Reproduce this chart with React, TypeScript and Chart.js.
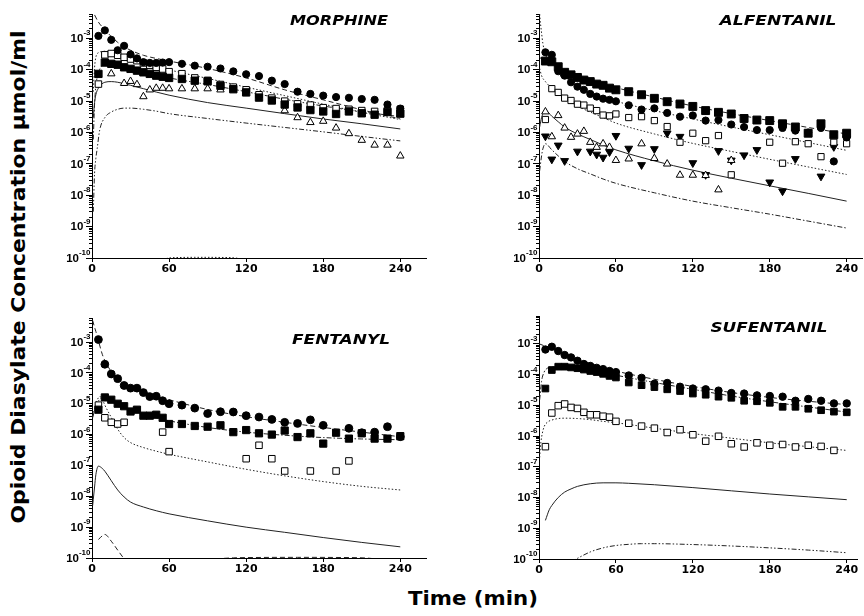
import React, { useEffect, useMemo, useRef } from "react";
import { Chart, registerables } from "chart.js";
Chart.register(...registerables);

// ---------- shared axes ----------
const SAMPLE_TIMES = [5, 10, 15, 20, 25, 30, 35, 40, 45, 50, 55, 60, 70, 80, 90, 100, 110, 120, 130, 140, 150, 160, 170, 180, 190, 200, 210, 220, 230, 240];
const X_TICKS = [0, 60, 120, 180, 240];
const Y_DECADES = [-10, -9, -8, -7, -6, -5, -4, -3];

// ---------- MORPHINE ----------
const MORPHINE_CIRCLE = [1.2e-3, 1.8e-3, 9e-4, 4.2e-4, 5.8e-4, 3.1e-4, 2.3e-4, 1.75e-4, 1.65e-4, 1.65e-4, 1.7e-4, 1.75e-4, 1.55e-4, 1.35e-4, 1.25e-4, 1.1e-4, 8.9e-5, 7.2e-5, 6.3e-5, 4.5e-5, 3.5e-5, 2e-5, 1.7e-5, 1.5e-5, 1.35e-5, 1.28e-5, 1.17e-5, 1.1e-5, 7.8e-6, 5.8e-6];
const MORPHINE_SQUARE = [7.4e-5, 1.7e-4, 1.55e-4, 1.45e-4, 1.2e-4, 1.07e-4, 9.4e-5, 8.3e-5, 7.4e-5, 6.5e-5, 6e-5, 5.5e-5, 5.1e-5, 4.5e-5, 4.3e-5, 3.1e-5, 2.4e-5, 1.9e-5, 1.3e-5, 1.05e-5, 7.8e-6, 6.3e-6, 5.2e-6, 4.7e-6, 3.9e-6, 4.7e-6, 4.1e-6, 3.7e-6, 4.5e-6, 4e-6];
const MORPHINE_SQUARE_OPEN = [3.5e-5, 3e-4, 3.3e-4, 2.9e-4, 2.5e-4, 2.2e-4, 1.95e-4, 1.65e-4, 1.4e-4, 1.2e-4, 1.06e-4, 8.7e-5, 7.5e-5, 5.5e-5, 4.6e-5, 3.4e-5, 2.8e-5, 2.3e-5, 1.6e-5, 1.25e-5, 1e-5, 8.2e-6, 7.5e-6, 6.2e-6, 5.8e-6, 5.5e-6, 5e-6, 4.7e-6, 5e-6, 5.5e-6];
const MORPHINE_TRIANGLE = [null, null, 7.5e-5, null, 3.7e-5, 4.3e-5, 3.4e-5, 1.4e-5, 2.3e-5, 2.6e-5, 2.6e-5, 2.5e-5, 2.5e-5, 2.5e-5, 2.5e-5, 2.3e-5, null, null, null, null, 5e-6, 3e-6, 2.1e-6, 2.3e-6, 1.4e-6, 9.3e-7, 5.7e-7, 4e-7, 4e-7, 1.8e-7];
const M_L1_T = [2, 5, 10, 15, 20, 25, 30, 40, 50, 60, 90, 120, 150, 180, 210, 240];
const M_L1_V = [5.6e-3, 3.3e-3, 1.9e-3, 1.15e-3, 7.5e-4, 5.4e-4, 4.2e-4, 2.9e-4, 2.3e-4, 1.9e-4, 1.1e-4, 5.5e-5, 2.3e-5, 1.1e-5, 5.3e-6, 2.7e-6];
const M_L_T = [1, 2, 3, 5, 10, 15, 20, 30, 40, 50, 60, 90, 120, 150, 180, 210, 240];
const M_L2_V = [2e-5, 1.2e-4, 2.5e-4, 3.5e-4, 3.9e-4, 3.7e-4, 3.3e-4, 2.5e-4, 1.8e-4, 1.3e-4, 1e-4, 5.3e-5, 2.8e-5, 1.5e-5, 8e-6, 4.4e-6, 2.6e-6];
const M_L3_V = [6e-7, 8e-6, 3e-5, 8e-5, 1.5e-4, 1.5e-4, 1.35e-4, 1.1e-4, 8.5e-5, 6.8e-5, 5.5e-5, 3.4e-5, 2e-5, 1.15e-5, 7e-6, 4.6e-6, 3.2e-6];
const M_L4_V = [3e-6, 9e-6, 1.6e-5, 2.6e-5, 4e-5, 4.2e-5, 4e-5, 3.2e-5, 2.5e-5, 1.95e-5, 1.55e-5, 9e-6, 6e-6, 4e-6, 2.7e-6, 1.9e-6, 1.3e-6];
const M_L5_T = [1, 2, 3, 4, 6, 10, 15, 20, 25, 30, 40, 50, 60, 90, 120, 150, 180, 210, 240];
const M_L5_V = [3e-9, 5e-8, 1.5e-7, 3e-7, 1.2e-6, 3e-6, 4.5e-6, 5.5e-6, 6e-6, 6e-6, 5.5e-6, 4.8e-6, 4e-6, 2.8e-6, 2e-6, 1.45e-6, 1.05e-6, 7.5e-7, 5.4e-7];
const M_L6_T = [55, 60, 70, 80, 90, 100, 110, 115];
const M_L6_V = [9e-11, 1e-10, 1.04e-10, 1.05e-10, 1.05e-10, 1.04e-10, 1.02e-10, 9.5e-11];

// ---------- ALFENTANIL ----------
const ALFENTANIL_SQUARE = [1.9e-4, 1.8e-4, 1.25e-4, 8.3e-5, 6.9e-5, 5.7e-5, 4.7e-5, 4.2e-5, 3.5e-5, 3.2e-5, 2.6e-5, 2.3e-5, 2e-5, 1.6e-5, 1.23e-5, 9.6e-6, 8.1e-6, 6.8e-6, 5e-6, 4.4e-6, 3.9e-6, 2.8e-6, 2.5e-6, 2.4e-6, 1.9e-6, 1.5e-6, 9.5e-7, 1.9e-6, 8.5e-7, 9.5e-7];
const ALFENTANIL_CIRCLE = [3.6e-4, 3e-4, 9e-5, 6.5e-5, 4e-5, 2.9e-5, 2.3e-5, 1.7e-5, 1.4e-5, 1.2e-5, 1.1e-5, 9.9e-6, 7.4e-6, 5.4e-6, 5.9e-6, 4.2e-6, 3.2e-6, 3.5e-6, 2.4e-6, 2.5e-6, 1.8e-6, 1.5e-6, 1.2e-6, 1.2e-6, 1.4e-6, 1.15e-6, 1e-6, 1.4e-6, 1.2e-7, 7e-7];
const ALFENTANIL_SQUARE_OPEN = [2.6e-6, 2.5e-5, 1.9e-5, 1.25e-5, 1.05e-5, 8e-6, 7.5e-6, 6e-6, 5e-6, 3.6e-6, 3.4e-6, 3.9e-6, 3e-6, 3.2e-6, 2.4e-6, 1.55e-6, 4.9e-7, 9.5e-7, 5.5e-7, 8e-7, 4.5e-8, null, null, 4.9e-7, 1.05e-7, 5.1e-7, 4.4e-7, 1.7e-7, 4.9e-7, 4.4e-7];
const ALFENTANIL_TRIANGLE = [4.6e-6, 7.4e-7, 3.5e-6, 1.4e-6, 7.1e-7, 9e-7, 1.1e-6, 4.9e-7, 3.4e-7, 4.4e-7, 3.4e-7, 1.3e-7, 1.45e-7, 4.4e-7, 1.5e-7, 1e-7, 4.4e-8, 4.4e-8, 4.3e-8, 1.5e-8, 1.3e-7, null, null, null, null, null, null, null, null, null];
const ALFENTANIL_TRIANGLE_DOWN = [7.6e-7, 1.4e-7, 3.9e-7, 1.25e-7, null, 2.5e-7, null, 2.5e-7, 2e-7, 1.6e-7, 2.4e-7, 7.9e-7, 3.1e-7, 9.3e-8, 3e-7, 9.5e-7, 7.4e-7, 1.07e-7, 4.5e-8, 2.6e-7, 1.3e-7, 1.9e-7, 2.8e-7, 2.6e-8, 1.35e-8, 1.45e-7, null, 4e-8, 3.5e-7, 6e-7];
const A_L1_T = [0.5, 1, 2, 3, 5, 10, 15, 20, 30, 40, 50, 60, 90, 120, 150, 180, 210, 240];
const A_L1_V = [6e-3, 3.5e-3, 1.5e-3, 7e-4, 3.2e-4, 1.7e-4, 1e-4, 6.5e-5, 3.5e-5, 2.1e-5, 1.4e-5, 1e-5, 5e-6, 2.7e-6, 1.5e-6, 8.5e-7, 4.8e-7, 2.7e-7];
const A_L_T = [0.5, 2, 5, 10, 15, 20, 30, 40, 50, 60, 90, 120, 150, 180, 210, 240];
const A_L2_V = [2.5e-4, 2.2e-4, 1.9e-4, 1.6e-4, 1.2e-4, 9.5e-5, 6.5e-5, 4.7e-5, 3.5e-5, 2.7e-5, 1.35e-5, 7e-6, 4e-6, 2.4e-6, 1.45e-6, 9e-7];
const A_L3_V = [1.1e-4, 6.5e-5, 4.2e-5, 2.6e-5, 1.75e-5, 1.25e-5, 7e-6, 4.5e-6, 3e-6, 2e-6, 9e-7, 4.5e-7, 2.5e-7, 1.4e-7, 8e-8, 4.6e-8];
const A_L4_V = [1.5e-6, 3e-6, 5e-6, 3.3e-6, 2.2e-6, 1.5e-6, 9e-7, 6e-7, 4e-7, 2.8e-7, 1.25e-7, 6.3e-8, 3.5e-8, 2e-8, 1.15e-8, 6.5e-9];
const A_L5_T = [0.5, 2, 3, 5, 10, 15, 20, 30, 40, 50, 60, 90, 120, 150, 180, 210, 240];
const A_L5_V = [6e-8, 1.8e-7, 3e-7, 4.4e-7, 2.8e-7, 1.8e-7, 1.2e-7, 7e-8, 4.8e-8, 3.3e-8, 2.4e-8, 1.2e-8, 6.5e-9, 4e-9, 2.5e-9, 1.5e-9, 9e-10];

// ---------- FENTANYL ----------
const FENTANYL_CIRCLE = [1.2e-3, 1.9e-4, 9.2e-5, 6.5e-5, 3.9e-5, 3.2e-5, 3.2e-5, 2.3e-5, 1.7e-5, 1.75e-5, 1.25e-5, 1e-5, 9e-6, 7.2e-6, 4.8e-6, 5.5e-6, 5.4e-6, 4.1e-6, 3.7e-6, 3.1e-6, 2.5e-6, 2.3e-6, 3e-6, 2e-6, null, 1.6e-6, 1.15e-6, 1.2e-6, 1.8e-6, 8.5e-7];
const FENTANYL_SQUARE = [6.4e-6, 1.6e-5, 1.35e-5, 1e-5, 8.3e-6, 5.6e-6, 6.4e-6, 4.1e-6, 4.1e-6, 4.4e-6, 3.5e-6, 2.2e-6, 2.2e-6, 1.9e-6, 1.8e-6, 2e-6, 1.2e-6, 1.4e-6, 1.1e-6, 1e-6, 1.35e-6, 8.3e-7, 1.1e-6, 5.1e-7, 1.15e-6, 7.4e-7, 1.1e-6, 7.4e-7, 7.4e-7, 8.9e-7];
const FENTANYL_SQUARE_OPEN = [9e-6, 3.5e-6, 2.5e-6, 2.2e-6, 2.5e-6, null, null, null, null, null, 1.2e-6, 2.8e-7, null, null, null, null, null, 1.65e-7, 4.5e-7, 1.65e-7, 6.6e-8, null, 6.6e-8, null, 6.6e-8, 1.4e-7, null, null, null, null];
const F_L1_T = [0.5, 2, 3, 5, 8, 10, 15, 20, 25, 30, 40, 50, 60, 90, 120, 150, 180, 210, 240];
const F_L1_V = [5e-3, 3e-3, 2.2e-3, 1.1e-3, 4e-4, 2.5e-4, 1.1e-4, 6.5e-5, 4.5e-5, 3.5e-5, 2.5e-5, 1.8e-5, 1.35e-5, 6.5e-6, 3.8e-6, 2.5e-6, 1.7e-6, 1.2e-6, 8.5e-7];
const F_L2_T = [0.5, 2, 4, 6, 8, 10, 15, 20, 30, 40, 50, 60, 90, 120, 150, 180, 210, 240];
const F_L2_V = [3.5e-6, 6e-6, 1e-5, 1.4e-5, 1.5e-5, 1.45e-5, 1.2e-5, 9.5e-6, 6.5e-6, 4.7e-6, 3.5e-6, 2.8e-6, 1.7e-6, 1.2e-6, 9.5e-7, 8e-7, 7.2e-7, 6.8e-7];
const F_L3_T = [0.5, 2, 4, 6, 8, 10, 15, 20, 25, 30, 40, 50, 60, 90, 120, 150, 180, 210, 240];
const F_L3_V = [4e-6, 7e-6, 1.3e-5, 1.7e-5, 1.4e-5, 9e-6, 3.6e-6, 1.5e-6, 8e-7, 5.5e-7, 3.8e-7, 2.9e-7, 2.3e-7, 1.3e-7, 7.5e-8, 4.6e-8, 3e-8, 2.1e-8, 1.6e-8];
const F_L4_T = [0.5, 1, 2, 3, 5, 8, 10, 15, 20, 25, 30, 40, 50, 60, 90, 120, 150, 180, 210, 240];
const F_L4_V = [5e-9, 8e-9, 2e-8, 5e-8, 9.5e-8, 8e-8, 6.5e-8, 3.2e-8, 1.6e-8, 9.5e-9, 6.5e-9, 4.5e-9, 3.4e-9, 2.7e-9, 1.6e-9, 1e-9, 6.8e-10, 4.6e-10, 3.2e-10, 2.3e-10];
const F_L5_T = [5, 10, 15, 20, 25, 30, 40, 60, 80, 100, 110, 130, 160, 190, 213, 225, 240];
const F_L5_V = [4e-10, 5.8e-10, 3.5e-10, 1.8e-10, 9.5e-11, 6e-11, 4e-11, 5e-11, 7e-11, 9.5e-11, 1.01e-10, 1.04e-10, 1.05e-10, 1.04e-10, 1e-10, 9e-11, 8e-11];

// ---------- SUFENTANIL ----------
const SUFENTANIL_CIRCLE = [6.5e-4, 8e-4, 5.8e-4, 4.3e-4, 3.6e-4, 2.8e-4, 2.2e-4, 1.9e-4, 1.65e-4, 1.5e-4, 1.3e-4, 1.2e-4, 9.3e-5, 7.8e-5, 5e-5, 5.3e-5, 4e-5, 3.5e-5, 3.3e-5, 3e-5, 2.5e-5, 2.4e-5, 2.1e-5, 2e-5, 1.9e-5, 1.4e-5, 1.6e-5, 1.4e-5, 1.15e-5, 1.15e-5];
const SUFENTANIL_SQUARE = [3.5e-5, 1.4e-4, 1.8e-4, 1.8e-4, 1.7e-4, 1.6e-4, 1.45e-4, 1.3e-4, 1.2e-4, 1.05e-4, 9e-5, 8e-5, 5.5e-5, 4.5e-5, 3.9e-5, 3.3e-5, 2.9e-5, 2.4e-5, 2.2e-5, 1.9e-5, 1.75e-5, 1.4e-5, 1.35e-5, 1.2e-5, 8.9e-6, 8.9e-6, 7.7e-6, 6.9e-6, 6.2e-6, 5.9e-6];
const SUFENTANIL_SQUARE_OPEN = [4.5e-7, 5.6e-6, 9.7e-6, 1.1e-5, 8.5e-6, 7.9e-6, 5.9e-6, 4.9e-6, 4.9e-6, 4.4e-6, 4.1e-6, 3e-6, 2.6e-6, 2.1e-6, 1.8e-6, 1.3e-6, 1.6e-6, 1.1e-6, 6.8e-7, 9.8e-7, 5.6e-7, 4.4e-7, 6e-7, 5e-7, 5.3e-7, 4.4e-7, 5e-7, 4.6e-7, 3.4e-7, null];
const S_L1_T = [0, 5, 10, 15, 20, 30, 40, 50, 60, 90, 120, 150, 180, 210, 240];
const S_L1_V = [1e-3, 8.3e-4, 6.8e-4, 5.6e-4, 4.6e-4, 3.2e-4, 2.3e-4, 1.7e-4, 1.3e-4, 7e-5, 4.1e-5, 2.6e-5, 1.8e-5, 1.35e-5, 1.05e-5];
const S_L2_T = [0.5, 2, 4, 6, 10, 15, 20, 30, 40, 50, 60, 90, 120, 150, 180, 210, 240];
const S_L2_V = [1.5e-5, 6e-5, 1.2e-4, 1.55e-4, 1.75e-4, 1.8e-4, 1.75e-4, 1.55e-4, 1.35e-4, 1.15e-4, 9.5e-5, 5.5e-5, 3.3e-5, 2e-5, 1.3e-5, 8.8e-6, 6e-6];
const S_L3_T = [0.5, 1, 2, 4, 7, 10, 15, 20, 30, 40, 50, 60, 90, 120, 150, 180, 210, 240];
const S_L3_V = [2e-7, 4e-7, 9e-7, 2e-6, 2.9e-6, 3.3e-6, 3.7e-6, 3.8e-6, 3.7e-6, 3.4e-6, 3e-6, 2.7e-6, 1.8e-6, 1.2e-6, 8.5e-7, 6e-7, 4.5e-7, 3.4e-7];
const S_L4_T = [5, 8, 10, 15, 20, 25, 30, 40, 50, 60, 70, 90, 120, 150, 180, 210, 240];
const S_L4_V = [1.8e-9, 4e-9, 5.5e-9, 1e-8, 1.5e-8, 1.9e-8, 2.3e-8, 2.8e-8, 3e-8, 3e-8, 2.9e-8, 2.6e-8, 2.1e-8, 1.65e-8, 1.3e-8, 1.05e-8, 8.5e-9];
const S_L5_T = [25, 30, 40, 50, 60, 70, 80, 90, 120, 150, 180, 210, 240];
const S_L5_V = [8e-11, 1.05e-10, 1.7e-10, 2.3e-10, 2.75e-10, 3e-10, 3.15e-10, 3.15e-10, 2.95e-10, 2.65e-10, 2.3e-10, 1.95e-10, 1.6e-10];

// ---------- styling ----------
const DASH = [5, 3];
const DOT = [1.5, 2];
const DASH_DOT = [5, 2, 1.5, 2];
const DASH_DOT_DOT = [5, 2, 1.5, 2, 1.5, 2];
const SOLID: number[] = [];
const LINE_COLOR = "#222";
const Y_AXIS_W = 62;
const X_AXIS_H = 22;
const PAD_TOP = 6;
const MAJOR_TICK = 6;

const pts = (vals: (number | null)[]) =>
  SAMPLE_TIMES.flatMap((t, i) => (vals[i] == null ? [] : [{ x: t, y: vals[i] as number }]));
const curve = (ts: number[], vs: number[]) => ts.map((t, i) => ({ x: t, y: vs[i] }));

function markers(vals: (number | null)[], kind: string, r: number) {
  const filled = kind === "circle" || kind === "square" || kind === "triangleDown";
  return {
    data: pts(vals),
    showLine: false,
    pointStyle: kind === "circle" ? "circle" : kind.startsWith("square") ? "rect" : "triangle",
    pointRotation: kind === "triangleDown" ? 180 : 0,
    pointRadius: r,
    pointHoverRadius: r,
    pointBackgroundColor: filled ? "#000" : "#fff",
    pointBorderColor: "#000",
    pointBorderWidth: 1,
  };
}
function line(ts: number[], vs: number[], dash: number[]) {
  return {
    data: curve(ts, vs),
    showLine: true,
    pointRadius: 0,
    pointHoverRadius: 0,
    borderColor: LINE_COLOR,
    borderWidth: 1,
    borderDash: dash,
    cubicInterpolationMode: "monotone",
    fill: false,
    clip: 0,
  };
}

const PANELS = [
  {
    id: "morphine", left: 92, top: 14, w: 334, h: 244, xMax: 260, yMax: 6e-3, padRight: 8,
    datasets: () => [
      markers(MORPHINE_CIRCLE, "circle", 3.6),
      markers(MORPHINE_SQUARE, "square", 5.2),
      markers(MORPHINE_SQUARE_OPEN, "squareOpen", 4.6),
      markers(MORPHINE_TRIANGLE, "triangle", 4.3),
      line(M_L1_T, M_L1_V, DASH),
      line(M_L_T, M_L2_V, DOT),
      line(M_L_T, M_L3_V, DASH_DOT),
      line(M_L_T, M_L4_V, SOLID),
      line(M_L5_T, M_L5_V, DASH_DOT_DOT),
      line(M_L6_T, M_L6_V, DOT),
    ],
  },
  {
    id: "alfentanil", left: 539, top: 14, w: 323, h: 244, xMax: 252, yMax: 6e-3, padRight: 2,
    datasets: () => [
      markers(ALFENTANIL_SQUARE, "square", 5.6),
      markers(ALFENTANIL_CIRCLE, "circle", 3.6),
      markers(ALFENTANIL_SQUARE_OPEN, "squareOpen", 4.4),
      markers(ALFENTANIL_TRIANGLE, "triangle", 4.3),
      markers(ALFENTANIL_TRIANGLE_DOWN, "triangleDown", 4.5),
      line(A_L1_T, A_L1_V, DOT),
      line(A_L_T, A_L2_V, DASH),
      line(A_L_T, A_L3_V, DOT),
      line(A_L_T, A_L4_V, SOLID),
      line(A_L5_T, A_L5_V, DASH_DOT),
    ],
  },
  {
    id: "fentanyl", left: 92, top: 318, w: 334, h: 240, xMax: 260, yMax: 6e-3, padRight: 8,
    datasets: () => [
      markers(FENTANYL_CIRCLE, "circle", 3.9),
      markers(FENTANYL_SQUARE, "square", 5.1),
      markers(FENTANYL_SQUARE_OPEN, "squareOpen", 4.6),
      line(F_L1_T, F_L1_V, DASH),
      line(F_L2_T, F_L2_V, DASH_DOT),
      line(F_L3_T, F_L3_V, DOT),
      line(F_L4_T, F_L4_V, SOLID),
      line(F_L5_T, F_L5_V, DASH),
    ],
  },
  {
    id: "sufentanil", left: 539, top: 316, w: 318, h: 243, xMax: 248, yMax: 8e-3, padRight: 6,
    datasets: () => [
      markers(SUFENTANIL_CIRCLE, "circle", 3.7),
      markers(SUFENTANIL_SQUARE, "square", 4.7),
      markers(SUFENTANIL_SQUARE_OPEN, "squareOpen", 4.6),
      line(S_L1_T, S_L1_V, DASH),
      line(S_L2_T, S_L2_V, DASH_DOT),
      line(S_L3_T, S_L3_V, DOT),
      line(S_L4_T, S_L4_V, SOLID),
      line(S_L5_T, S_L5_V, DASH_DOT_DOT),
    ],
  },
];

const TITLES = [
  { text: "MORPHINE", cx: 339, cy: 20, width: 98 },
  { text: "ALFENTANIL", cx: 778, cy: 20, width: 117 },
  { text: "FENTANYL", cx: 341, cy: 338.5, width: 98 },
  { text: "SUFENTANIL", cx: 768.5, cy: 327, width: 117 },
];

function logTicks(yMax: number) {
  const ticks: { value: number }[] = [];
  for (const d of Y_DECADES) {
    for (let m = 1; m <= 9; m++) {
      const v = m * Math.pow(10, d);
      if (v <= yMax * 1.0001) ticks.push({ value: v });
    }
  }
  return ticks;
}

const yLabelPlugin = {
  id: "yDecadeLabels",
  afterDraw(chart: any) {
    const s = chart.scales.y;
    const ctx = chart.ctx;
    const axisX = chart.chartArea.left;
    ctx.save();
    ctx.fillStyle = "#000";
    ctx.strokeStyle = "#000";
    ctx.lineWidth = 1;
    for (const d of Y_DECADES) {
      const y = s.getPixelForValue(Math.pow(10, d));
      const ya = Math.round(y - 0.5) + 0.5;
      ctx.beginPath();
      ctx.moveTo(axisX - MAJOR_TICK, ya);
      ctx.lineTo(axisX, ya);
      ctx.stroke();
      const exp = "-" + Math.abs(d);
      ctx.font = 'bold 8px "Liberation Sans"';
      ctx.textAlign = "right";
      ctx.textBaseline = "alphabetic";
      const ew = ctx.measureText(exp).width;
      ctx.fillText(exp, axisX - 1.5, y - 3);
      ctx.font = 'bold 11.5px "Liberation Sans"';
      ctx.textBaseline = "middle";
      ctx.fillText("10", axisX - 1.5 - ew, y + 0.5);
    }
    ctx.restore();
  },
};

function Panel({ p }: { p: any }) {
  const ref = useRef<HTMLCanvasElement>(null);
  const cw = Y_AXIS_W + p.w + p.padRight;
  const ch = PAD_TOP + p.h + X_AXIS_H;
  useEffect(() => {
    const chart = new Chart(ref.current as HTMLCanvasElement, {
      type: "scatter",
      data: { datasets: p.datasets() },
      options: {
        responsive: false,
        animation: false,
        devicePixelRatio: 1,
        events: [],
        layout: { padding: { left: 0, top: PAD_TOP, right: p.padRight, bottom: 0 }, autoPadding: false },
        plugins: { legend: { display: false }, tooltip: { enabled: false } },
        scales: {
          x: {
            type: "linear",
            min: 0,
            max: p.xMax,
            afterBuildTicks: (s: any) => {
              s.ticks = X_TICKS.map((v) => ({ value: v }));
            },
            afterFit: (s: any) => {
              s.height = X_AXIS_H;
            },
            ticks: {
              color: "#000",
              font: { family: "DejaVu Sans", weight: "bold", size: 11 },
              padding: 1,
              maxRotation: 0,
              autoSkip: false,
              callback: (v: any) => String(v),
            },
            grid: { drawOnChartArea: false, drawTicks: true, tickLength: 4, color: "#000", lineWidth: 1 },
            border: { display: true, color: "#000", width: 1 },
          },
          y: {
            type: "logarithmic",
            min: 1e-10,
            max: p.yMax,
            afterBuildTicks: (s: any) => {
              s.ticks = logTicks(p.yMax);
            },
            afterFit: (s: any) => {
              s.width = Y_AXIS_W;
            },
            ticks: { display: false },
            grid: { drawOnChartArea: false, drawTicks: true, tickLength: 3, color: "#000", lineWidth: 1 },
            border: { display: true, color: "#000", width: 1 },
          },
        },
      } as any,
      plugins: [yLabelPlugin],
    });
    return () => chart.destroy();
  }, []);
  return (
    <canvas
      ref={ref}
      width={cw}
      height={ch}
      style={{ position: "absolute", left: p.left - Y_AXIS_W, top: p.top - PAD_TOP, width: cw, height: ch }}
    />
  );
}

function measure(text: string, font: string) {
  const c = document.createElement("canvas").getContext("2d") as CanvasRenderingContext2D;
  c.font = font;
  return c.measureText(text).width;
}

function FitText({ text, cx, cy, width, size, italic, rotate }: any) {
  const font = `${italic ? "italic " : ""}bold ${size}px "DejaVu Sans"`;
  const natural = useMemo(() => measure(text, font), [text, font]);
  const k = width / natural;
  return (
    <div
      style={{
        position: "absolute",
        left: cx,
        top: cy,
        font,
        lineHeight: `${size}px`,
        whiteSpace: "nowrap",
        color: "#000",
        transform: `translate(-50%,-50%) ${rotate ? "rotate(-90deg) " : ""}scaleX(${k})`,
      }}
    >
      {text}
    </div>
  );
}

export default function App() {
  return (
    <div style={{ position: "fixed", left: 0, top: 0, width: 864, height: 616, background: "#fff", overflow: "hidden" }}>
      {PANELS.map((p) => (
        <Panel key={p.id} p={p} />
      ))}
      {TITLES.map((t) => (
        <FitText key={t.text} text={t.text} cx={t.cx} cy={t.cy} width={t.width} size={14} italic />
      ))}
      <FitText text="Time (min)" cx={473} cy={598} width={130} size={20} />
      <FitText text="Opioid Diasylate Concentration μmol/ml" cx={18} cy={276.5} width={493} size={19} rotate />
    </div>
  );
}
